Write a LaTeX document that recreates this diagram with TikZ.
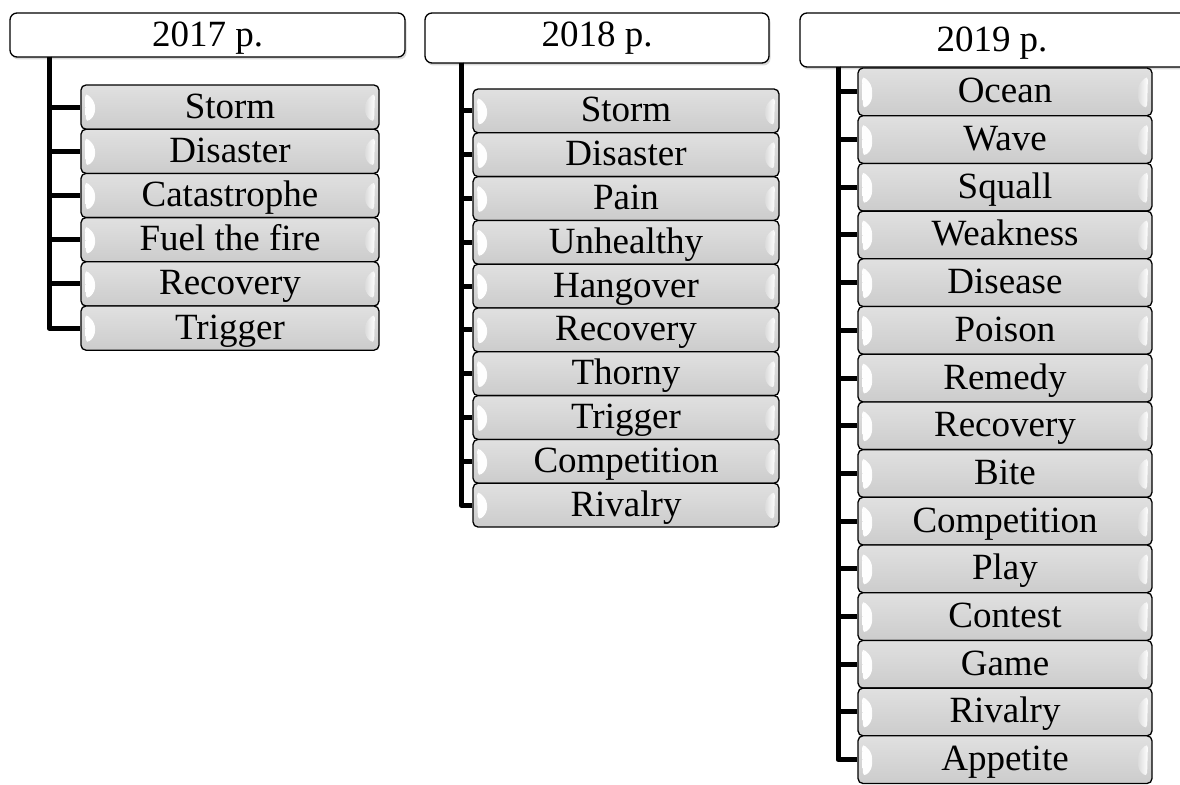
\documentclass[tikz,border=0pt]{standalone}
\usepackage{fontspec}
\setmainfont{Liberation Serif}
\usetikzlibrary{shadows}

\tikzset{
  yearbox/.style={rectangle, draw, rounded corners=7pt, fill=white, line width=1.3pt,
    inner sep=0pt, font=\fontsize{37}{40}\selectfont, text height=28pt, text depth=4pt,
    drop shadow={opacity=0.3, shadow xshift=1.5pt, shadow yshift=-2.5pt}},
  wordbox/.style={rectangle, draw, rounded corners=5pt, line width=1.3pt, inner sep=0pt,
    top color=black!12, bottom color=black!20, font=\fontsize{37}{40}\selectfont,
    text height=28pt, text depth=6pt,
    path picture={
      \shade[left color=white, right color=black!14]
        ([shift={(4pt,-7pt)}]path picture bounding box.north west)
        -- ([shift={(14pt,-17pt)}]path picture bounding box.north west)
        -- ([shift={(14pt,14pt)}]path picture bounding box.south west)
        -- ([shift={(5pt,6pt)}]path picture bounding box.south west) -- cycle;
      \shade[left color=black!14, right color=white]
        ([shift={(-4pt,-7pt)}]path picture bounding box.north east)
        -- ([shift={(-14pt,-17pt)}]path picture bounding box.north east)
        -- ([shift={(-14pt,14pt)}]path picture bounding box.south east)
        -- ([shift={(-5pt,6pt)}]path picture bounding box.south east) -- cycle;
    }},
  trunk/.style={line width=5pt, line join=round}
}

\begin{document}
\begin{tikzpicture}[x=1pt, y=-1pt]
  \useasboundingbox (0,0) rectangle (1180,784);

  % Year headers
  \node (h17) at (207.5,35) [yearbox, minimum width=395pt, minimum height=44pt] {2017 р.};
  \node (h18) at (597,38) [yearbox, minimum width=344pt, minimum height=50pt, text height=26pt, text depth=8pt] {2018 р.};
  \node (h19) at (996,40) [yearbox, minimum width=392pt, minimum height=54pt] {\hspace*{-8pt}2019 р.};

  \coordinate (t17) at (49,57);
  \coordinate (t18) at (461,63);
  \coordinate (t19) at (838,67);

  % Words
  \foreach \w [count=\k] in {Storm,Disaster,Catastrophe,Fuel the fire,Recovery,Trigger}
    \node (a17-\k) at (230,{107.1+44.2*(\k-1)}) [wordbox, minimum width=298pt, minimum height=44.2pt] {\w};
  \foreach \w [count=\k] in {Storm,Disaster,Pain,Unhealthy,Hangover,Recovery,Thorny,Trigger,Competition,Rivalry}
    \node (a18-\k) at (626,{110.9+43.8*(\k-1)}) [wordbox, minimum width=306pt, minimum height=43.8pt] {\w};
  \foreach \w [count=\k] in {Ocean,Wave,Squall,Weakness,Disease,Poison,Remedy,Recovery,Bite,Competition,Play,Contest,Game,Rivalry,Appetite}
    \node (a19-\k) at (1005,{91.85+47.7*(\k-1)}) [wordbox, minimum width=294pt, minimum height=47.7pt] {\w};

  % Edges
  \foreach \k in {1,...,6}
    \draw[trunk] (t17) |- (a17-\k.west);
  \foreach \k in {1,...,10}
    \draw[trunk] (t18) |- (a18-\k.west);
  \foreach \k in {1,...,15}
    \draw[trunk] (t19) |- (a19-\k.west);
\end{tikzpicture}
\end{document}
